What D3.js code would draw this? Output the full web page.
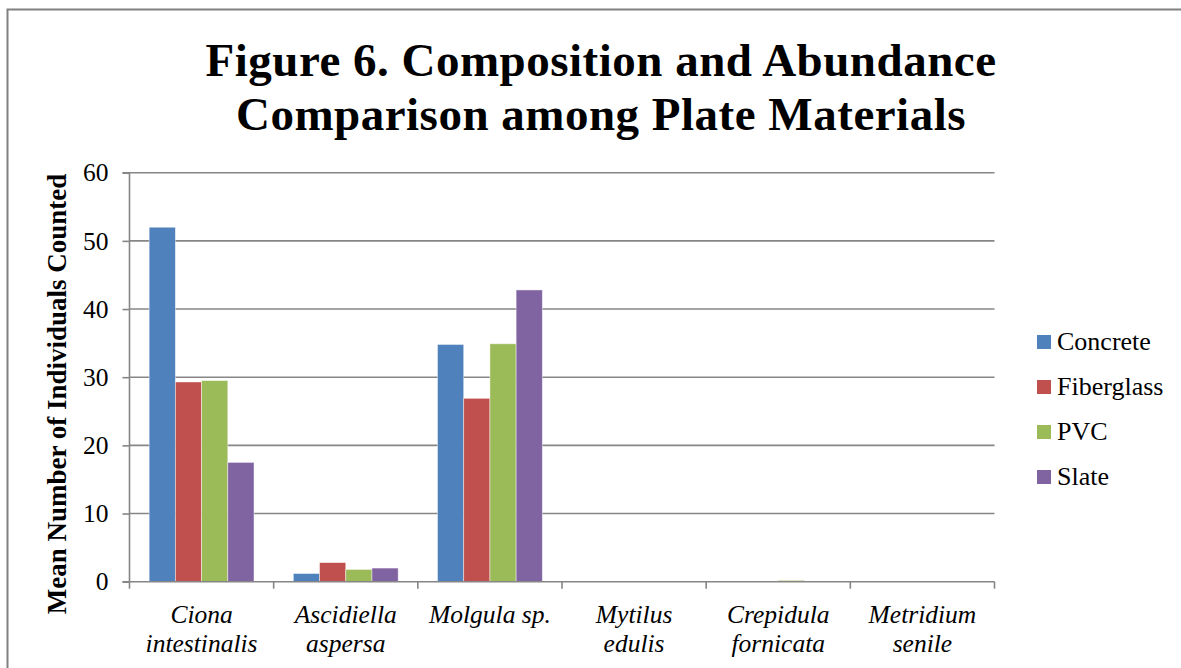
<!DOCTYPE html>
<html>
<head>
<meta charset="utf-8">
<script src="https://cdn.jsdelivr.net/npm/d3@7/dist/d3.min.js"></script>
<style>
  html, body { margin: 0; padding: 0; background: #fff; }
  svg { display: block; }
</style>
</head>
<body>
<svg id="chart" width="1181" height="668"></svg>
<script>
// Species (two-line labels) and mean counts per plate material
const categories = [
  ["Ciona", "intestinalis"],
  ["Ascidiella", "aspersa"],
  ["Molgula sp."],
  ["Mytilus", "edulis"],
  ["Crepidula", "fornicata"],
  ["Metridium", "senile"]
];
const seriesNames = ["Concrete", "Fiberglass", "PVC", "Slate"];
const concrete   = [52.0, 1.2, 34.8, 0, 0,   0];
const fiberglass = [29.3, 2.8, 26.9, 0, 0,   0];
const pvc        = [29.5, 1.8, 34.9, 0, 0.2, 0];
const slate      = [17.5, 2.0, 42.8, 0, 0,   0];
const yTicks = [0, 10, 20, 30, 40, 50, 60];

const seriesValues = [concrete, fiberglass, pvc, slate];
const colors = ["#4F81BD", "#C0504D", "#9BBB59", "#8064A2"];
const catKeys = categories.map(c => c.join(" "));
const SERIF = '"Liberation Serif", "Times New Roman", serif';

const svg = d3.select("#chart");

function serif(sel, size, extra) {
  sel.style("font-family", SERIF).style("font-size", size + "px").attr("fill", "#000");
  if (extra) Object.entries(extra).forEach(([k, v]) => sel.style(k, v));
  return sel;
}

// chart area frame
svg.append("path")
  .attr("d", "M7.5,672 V9.5 H1185")
  .attr("fill", "none")
  .attr("stroke", "#808080")
  .attr("stroke-width", 2);

const plot = { left: 129.5, right: 994.5, top: 172.7, bottom: 581.7 };

const x = d3.scaleBand().domain(catKeys).range([plot.left, plot.right]).paddingInner(0).paddingOuter(0);
const xs = d3.scaleBand().domain(seriesNames).range([0, x.bandwidth()]).paddingInner(0).paddingOuter(0.75);
const y = d3.scaleLinear().domain([0, 60]).range([plot.bottom, plot.top]);

// horizontal gridlines
svg.append("g")
  .selectAll("line")
  .data(yTicks.filter(t => t > 0))
  .join("line")
  .attr("x1", plot.left).attr("x2", plot.right)
  .attr("y1", d => y(d)).attr("y2", d => y(d))
  .attr("stroke", "#868686").attr("stroke-width", 1.6);

// bars
const groups = svg.append("g")
  .selectAll("g")
  .data(seriesNames.map((s, i) => ({ name: s, values: seriesValues[i], color: colors[i] })))
  .join("g")
  .attr("fill", d => d.color);

groups.selectAll("rect")
  .data(d => d.values.map((v, j) => ({ v, cat: catKeys[j], s: d.name })))
  .join("rect")
  .attr("x", d => x(d.cat) + xs(d.s))
  .attr("width", xs.bandwidth())
  .attr("y", d => y(d.v))
  .attr("height", d => y(0) - y(d.v))
  .attr("stroke", "rgba(255,255,255,0.55)")
  .attr("stroke-width", 0.8);

// y axis
const yAxis = d3.axisLeft(y).tickValues(yTicks).tickSize(7).tickPadding(14);
const yg = svg.append("g").attr("transform", `translate(${plot.left},0)`).call(yAxis);
yg.select(".domain").attr("stroke", "#868686").attr("stroke-width", 1.6).attr("d", `M-7,${plot.top}H0V${plot.bottom}H-7`);
yg.selectAll(".tick line").attr("stroke", "#868686").attr("stroke-width", 1.6);
serif(yg.selectAll(".tick text"), 25.5);

// x axis
const xAxis = d3.axisBottom(x).tickSize(0).tickFormat("");
const xg = svg.append("g").attr("transform", `translate(0,${plot.bottom})`).call(xAxis);
xg.select(".domain").attr("stroke", "#868686").attr("stroke-width", 1.6).attr("d", `M${plot.left},0H${plot.right}`);
xg.selectAll(".tick").remove();
// category boundary tick marks
const boundaries = catKeys.map(k => x(k)).concat([plot.right]);
xg.selectAll("line.sep")
  .data(boundaries)
  .join("line")
  .attr("class", "sep")
  .attr("x1", d => d).attr("x2", d => d)
  .attr("y1", 0).attr("y2", 7)
  .attr("stroke", "#868686").attr("stroke-width", 1.6);

// category labels
const lab = serif(svg.append("g")
  .selectAll("text")
  .data(categories)
  .join("text")
  .attr("text-anchor", "middle"), 25.5, { "font-style": "italic" });
lab.selectAll("tspan")
  .data((d, i) => d.map((line, k) => ({ line, k, key: catKeys[i] })))
  .join("tspan")
  .attr("x", d => x(d.key) + x.bandwidth() / 2)
  .attr("y", d => 623 + d.k * 29)
  .text(d => d.line);

// y axis title
serif(svg.append("text")
  .attr("transform", "translate(66,394) rotate(-90)")
  .attr("text-anchor", "middle"), 27, { "font-weight": "bold" })
  .text("Mean Number of Individuals Counted");

// chart title
const title = serif(svg.append("text")
  .attr("text-anchor", "middle"), 47, { "font-weight": "bold", "letter-spacing": "0.5px" });
title.append("tspan").attr("x", 601).attr("y", 76).text("Figure 6. Composition and Abundance");
title.append("tspan").attr("x", 601).attr("y", 130).text("Comparison among Plate Materials");

// legend
const legend = svg.append("g")
  .selectAll("g")
  .data(seriesNames)
  .join("g")
  .attr("transform", (d, i) => `translate(1037,${335 + i * 45})`);
legend.append("rect").attr("width", 14).attr("height", 14).attr("fill", (d, i) => colors[i]);
serif(legend.append("text")
  .attr("x", 20).attr("y", 14.5), 26)
  .text(d => d);
</script>
</body>
</html>
